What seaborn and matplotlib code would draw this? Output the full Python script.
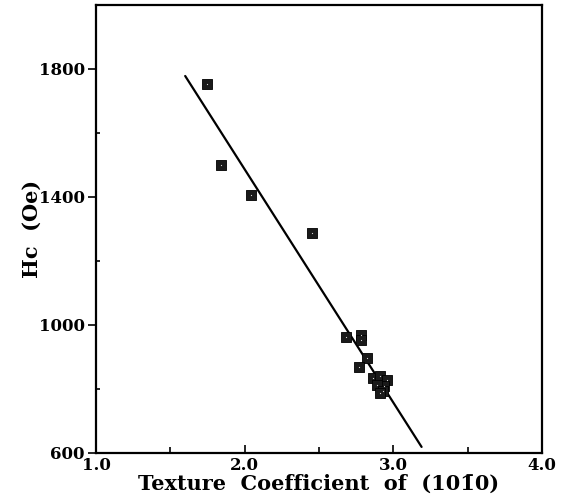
import matplotlib
matplotlib.use("Agg")
import matplotlib.pyplot as plt
from matplotlib.ticker import MultipleLocator
import seaborn as sns
import pandas as pd

# Texture coefficient of (10-10) vs coercivity
texture_coeff = [1.75, 1.84, 2.04, 2.45, 2.68, 2.78, 2.78, 2.82, 2.77,
                 2.86, 2.91, 2.96, 2.94, 2.89, 2.93, 2.91]
coercivity = [1753, 1500, 1406, 1287, 962, 969, 953, 897, 869,
              834, 841, 828, 809, 812, 794, 787]

# Linear fit drawn across the data range
fit_x = [1.60, 3.19]
fit_y = [1778, 619]

sns.set_style("ticks")
plt.rcParams["font.family"] = ["DejaVu Serif"]
plt.rcParams["font.weight"] = "bold"
plt.rcParams["text.color"] = "black"
plt.rcParams["axes.labelcolor"] = "black"
plt.rcParams["xtick.color"] = "black"
plt.rcParams["ytick.color"] = "black"

df = pd.DataFrame({"tc": texture_coeff, "hc": coercivity})
fit = pd.DataFrame({"tc": fit_x, "hc": fit_y})

fig = plt.figure(figsize=(5.66, 5.04), dpi=100)
ax = fig.add_axes([0.1696, 0.1012, 0.788, 0.889])

sns.lineplot(data=fit, x="tc", y="hc", ax=ax, color="black", lw=1.6)
sns.scatterplot(data=df, x="tc", y="hc", ax=ax, marker="s", s=42,
                color="#1a1a1a", edgecolor="black", linewidth=0.6, zorder=3)
sns.scatterplot(data=df, x="tc", y="hc", ax=ax, marker=".", s=3,
                color="#dddddd", linewidth=0, zorder=4)

ax.set_xlim(1.0, 4.0)
ax.set_ylim(600, 2000)
ax.set_xticks([1.0, 2.0, 3.0, 4.0])
ax.set_xticklabels(["1.0", "2.0", "3.0", "4.0"])
ax.set_yticks([600, 1000, 1400, 1800])
ax.set_yticklabels(["600", "1000", "1400", "1800"])
ax.xaxis.set_minor_locator(MultipleLocator(0.5))
ax.yaxis.set_minor_locator(MultipleLocator(200))

ax.tick_params(axis="x", which="major", direction="in", length=6, width=1.2,
               labelsize=12, pad=3)
ax.tick_params(axis="x", which="minor", direction="in", length=4, width=1.2)
ax.tick_params(axis="y", which="major", direction="out", length=6, width=1.2,
               labelsize=12, pad=2)
ax.tick_params(axis="y", which="minor", direction="in", length=3, width=1.2)
for lab in ax.get_xticklabels() + ax.get_yticklabels():
    lab.set_fontweight("bold")

for side in ["left", "bottom", "top", "right"]:
    ax.spines[side].set_visible(True)
    ax.spines[side].set_linewidth(1.6)
    ax.spines[side].set_color("black")

ax.set_xlabel("Texture  Coefficient  of  (101\u03040)",
              fontsize=15, fontweight="bold", labelpad=0)
ax.set_ylabel("Hc  (Oe)", fontsize=15, fontweight="bold", labelpad=-2)

fig.savefig("out.png", dpi=100)
